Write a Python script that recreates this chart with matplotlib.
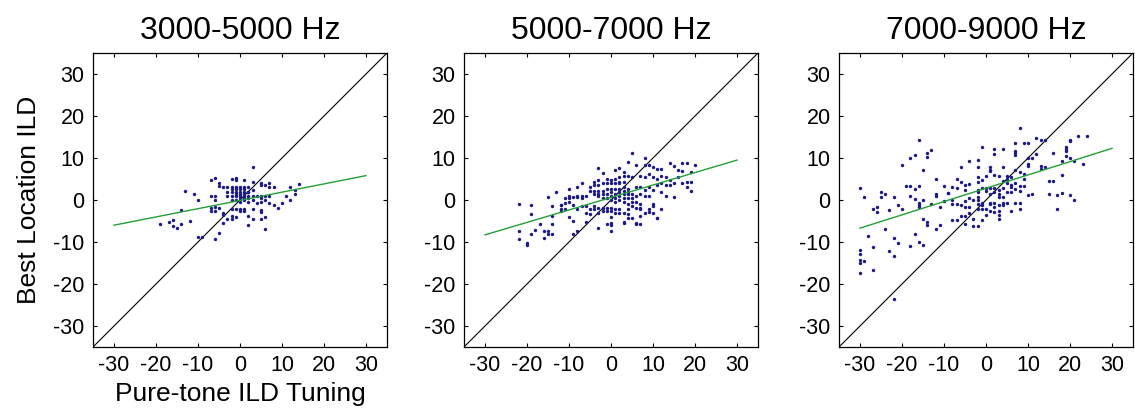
import numpy as np
import matplotlib
matplotlib.use("Agg")
import matplotlib.pyplot as plt

plt.rcParams['font.family'] = ['Liberation Sans', 'DejaVu Sans']
plt.rcParams['axes.unicode_minus'] = False

titles = ["3000-5000 Hz", "5000-7000 Hz", "7000-9000 Hz"]

# (pure-tone ILD, best location ILD)
pts_3000_5000 = [
    (3, 7.8), (-7, 4.8), (-6, 5.3), (-2, 5.0), (-1, 5.3), (-1, 4.8), (1, 4.8),
    (-5, 4.0), (-5, 3.4), (-4, 3.2), (-3, 3.0), (-2, 3.0), (-2, 2.5), (-1, 3.0),
    (-1, 2.5), (0, 3.0), (0, 2.5), (1, 3.0), (1, 2.5), (2, 3.0), (2, 2.0), (3, 4.3),
    (5, 4.0), (5, 3.5), (6, 3.5), (7, 4.0), (7, 3.0), (8, 3.0), (12, 3.0), (14, 3.9),
    (13, 2.3), (13, 1.5), (-13, 2.1), (-11, 1.4), (-10, 0.0),
    (-7, 0.9), (-6, 0.9), (-6, 0.0), (-3, 1.9), (-3, 0.9), (-2, 1.9), (-2, 0.9),
    (-2, 0.0), (-1, 1.9), (-1, 1.4), (-1, 0.9), (-1, 0.0), (0, 1.9), (0, 1.4),
    (0, 0.9), (0, 0.4), (0, -0.4), (1, 1.9), (1, 1.4), (1, 0.9), (1, 0.4), (1, 0.0),
    (2, 1.9), (2, 1.0), (2, 0.4), (2, -0.4), (3, 2.4), (3, 0.9), (3, 0.0), (4, 0.9),
    (5, 1.0), (5, 0.4), (5, -0.4), (6, 0.9), (6, 0.0), (7, 0.9), (7, -0.6), (8, -1.2),
    (9, -1.8), (10, -0.6), (11, 0.9), (12, 0.0), (4, -0.6),
    (-7, -1.8), (-6, -1.6), (-7, -2.7), (-6, -2.7), (-5, -2.0), (-4, -3.1), (-4, -3.5),
    (-2, -2.1), (-1, -2.1), (0, -2.1), (1, -2.1), (1, -2.7), (0, -2.7), (3, -2.1),
    (2, -3.7), (3, -4.5), (5, -2.5), (5, -2.8), (6, -4.1), (5, -4.6), (2, -6.0),
    (6, -6.8), (-2, -3.7), (-2, -4.5), (-1, -4.0), (-3, -4.6), (-4, -5.4),
    (-14, -2.5), (-12, -4.9), (-19, -5.7), (-17, -5.2), (-16, -4.8), (-16, -6.3),
    (-15, -6.6), (-14, -5.7), (-10, -8.7), (-9, -8.9), (-5, -7.9), (-6, -9.3),
]

pts_5000_7000 = [
    (5, 11.2), (4, 9.0), (8, 9.9), (6, 8.3), (8, 8.3), (9, 8.3), (10, 7.8), (11, 7.3),
    (12, 7.3), (14, 8.8), (17, 8.8), (18, 8.8), (20, 8.3), (15, 8.0), (16, 7.1),
    (17, 7.0), (19, 6.7), (-3, 7.5), (1, 7.1), (2, 7.5), (3, 6.7), (3, 5.8), (4, 5.8),
    (5, 5.4), (7, 5.8), (8, 5.4), (-2, 6.5), (-1, 5.1), (0, 4.8), (1, 5.1), (2, 5.4),
    (2, 4.4), (-3, 4.8), (-4, 4.3), (-4, 3.5), (-3, 3.5), (-2, 4.0), (-1, 4.0),
    (0, 4.0), (1, 4.0), (2, 4.0), (3, 4.4), (9, 6.3), (10, 5.4), (11, 5.0), (12, 5.6),
    (13, 5.4), (14, 4.8), (12, 4.0), (13, 3.5), (14, 3.5), (15, 4.0), (17, 4.0),
    (18, 4.3), (19, 4.3), (18, 3.0), (19, 2.2), (16, 5.4), (11, 3.5), (12, 1.8),
    (13, 0.9), (15, 0.6), (6, 3.0), (7, 3.0), (8, 2.4), (9, 3.0), (10, 2.4), (9, 0.9),
    (8, 0.9), (7, 1.4), (6, 0.9), (5, 1.4), (4, 1.8), (3, 2.2),
    (-5, 3.0), (-5, 2.2), (-4, 2.2), (-4, 1.4), (-3, 2.2), (-3, 1.4), (-3, 0.9),
    (-2, 2.2), (-2, 1.4), (-2, 0.4), (-1, 2.6), (-1, 1.4), (-1, 0.4), (0, 2.6),
    (0, 1.8), (0, 0.9), (0, 0.0), (1, 2.6), (1, 1.4), (1, 0.4), (1, -0.4), (2, 2.6),
    (2, 1.8), (2, 0.9), (2, 0.0), (3, 3.0), (3, 1.4), (3, 0.4), (3, -0.4), (4, 2.6),
    (4, 1.4), (4, 0.4), (4, -0.9), (5, 0.4), (5, -0.4), (5, -1.4), (6, -0.4),
    (6, -1.8), (7, -0.9), (7, -2.2),
    (-6, 0.9), (-7, 0.9), (-7, 0.4), (-8, 0.9), (-9, 0.6), (-10, 0.9), (-10, -0.4),
    (-11, 0.4), (-11, -0.6), (-12, -1.2), (-12, -2.6), (-9, -1.2), (-8, -2.2),
    (-7, -1.4), (-6, -1.4), (-6, -3.0), (-5, -2.2), (-5, -3.4), (-4, -1.4), (-4, -2.2),
    (-3, -1.8), (-3, -3.0), (-2, -1.8), (-2, -2.6), (-1, -1.8), (-1, -2.6), (0, -1.8),
    (0, -2.6), (0, -4.0), (0, -5.4), (0, -6.0), (0, -7.5), (1, -2.2), (1, -3.0),
    (2, -2.2), (2, -3.0), (3, -3.0), (3, -5.4), (4, -2.2), (4, -3.4), (4, -4.3),
    (5, -4.3), (6, -5.4), (7, -5.6), (8, -3.0), (9, -2.2), (10, -1.4), (10, -3.0),
    (11, -4.3), (12, -2.2),
    (-22, -1.0), (-19, -1.2), (-19, -3.3), (-15, 0.6), (-13, 2.0), (-12, -1.2),
    (-12, -2.1), (-14, -1.4), (-14, -3.7), (-11, -2.1), (-10, 2.5), (-10, 0.4),
    (-8, 3.0), (-8, 0.6), (-7, 4.0), (-17, -5.6), (-14, -5.7), (-22, -7.3),
    (-22, -9.4), (-20, -10.3), (-20, -10.7), (-19, -8.1), (-18, -7.1), (-16, -7.4),
    (-15, -7.4), (-15, -8.2), (-14, -8.2), (-16, -9.1), (-9, -8.1), (-8, -7.4),
    (-10, -4.1), (-9, -4.9), (-6, -5.3), (-3, -6.7), (-1, -5.7), (3, -5.3), (6, -5.7),
    (9, -2.9), (10, -1.0), (11, -4.4), (7, -3.7), (7, -2.0),
]

pts_7000_9000 = [
    (8, 17.1), (-16, 14.4), (12, 14.8), (13, 14.4), (14, 14.2), (22, 15.2), (24, 15.2),
    (20, 14.4), (20, 14.0), (19, 12.6), (19, 12.1), (19, 11.7), (7, 13.5), (9, 13.5),
    (10, 13.5), (-1, 12.6), (2, 12.1), (4, 12.1), (2, 11.0), (7, 11.7), (7, 11.3),
    (7, 10.8), (10, 10.0), (11, 10.0), (12, 11.0), (10, 8.6), (10, 8.2), (16, 11.2),
    (18, 9.2), (19, 10.4), (20, 10.0), (21, 9.2), (23, 8.6), (-14, 11.3), (-14, 10.3),
    (-13, 11.9), (-18, 10.0), (-17, 10.8), (-20, 8.4), (-15, 7.2),
    (-6, 7.9), (-4, 9.4), (-2, 9.5), (-2, 7.8), (1, 7.9), (1, 7.2), (4, 7.9), (5, 5.8),
    (6, 5.5), (7, 7.1), (8, 6.6), (9, 6.2), (13, 8.2), (13, 7.4), (14, 7.8), (15, 4.6),
    (16, 4.6), (18, 5.9), (-12, 5.0), (-7, 5.0), (-6, 4.4), (-5, 3.6), (-8, 3.0),
    (-10, 3.4), (-9, 1.6), (-7, 2.9), (-4, 3.8), (-5, 2.4),
    (-2, 5.4), (-2, 4.4), (-1, 4.8), (0, 5.8), (1, 6.8), (2, 6.0), (3, 5.8), (4, 4.6),
    (5, 5.0), (5, 4.0), (6, 3.6), (7, 4.0), (8, 3.4), (9, 3.4), (7, 2.6), (8, 2.2),
    (6, 3.0), (9, 5.0), (-1, 2.9), (0, 2.9), (1, 2.9), (2, 2.9), (3, 2.4), (4, 2.9),
    (-2, 2.4), (-2, 1.8), (0, 2.2), (1, 1.4), (2, 1.8), (3, 1.4), (4, 0.6), (3, 0.6),
    (5, 1.8), (6, 1.8), (10, 1.3), (11, 1.4), (15, 1.4), (17, 1.3), (18, 1.6),
    (20, 1.2), (21, 0.0),
    (-19, 3.4), (-18, 3.4), (-17, 2.6), (-16, 3.4), (-18, 1.0), (-17, 0.2), (-15, 0.0),
    (-16, -0.6), (-16, -1.1), (-16, -1.7), (-13, -1.0), (-12, 1.4), (-12, 0.9),
    (-11, -1.7), (-10, -0.2), (-9, 1.6), (-8, -1.0), (-8, 0.0), (-7, -1.0), (-6, -1.2),
    (-5, -0.2), (-4, 0.4), (-5, -1.6), (-4, -1.7), (-3, 0.0), (-2, 0.6), (-2, 0.0),
    (-2, -1.0), (-1, -0.6), (-1, -1.3), (1, -0.6), (1, -1.0), (2, -0.6), (2, -1.7),
    (3, -1.3), (3, -2.7), (4, -1.1), (4, -0.6), (5, -0.6), (6, -2.7), (7, -0.6),
    (8, -0.6), (8, -2.1), (17, -2.2),
    (-30, 2.9), (-29, 0.8), (-27, -2.1), (-26, -1.7), (-26, -2.8), (-25, 1.8),
    (-25, 0.8), (-24, 1.4), (-23, -2.5), (-22, 0.6), (-21, -1.2), (-20, -2.2),
    (-24, -6.9), (-28, -8.6), (-27, -11.1), (-30, -11.9), (-30, -12.8), (-30, -14.3),
    (-29, -14.5), (-30, -15.0), (-30, -17.3), (-27, -16.6), (-23, -12.2), (-22, -9.0),
    (-22, -13.3), (-21, -10.3), (-18, -10.9), (-17, -8.2), (-16, -9.9), (-15, -10.6),
    (-15, -4.5), (-14, -5.2), (-14, -6.0), (-12, -6.9), (-11, -5.9), (-8, -4.7),
    (-7, -4.8), (-6, -3.9), (-5, -3.9), (-5, -5.6), (-4, -3.0), (-3, -4.5), (-3, -6.3),
    (-2, -6.1), (-1, -4.7), (0, -3.5), (-2, -2.1), (-1, -2.1), (0, -2.1), (1, -2.7),
    (2, -2.9), (3, -3.5), (3, -4.5), (-22, -23.6),
]

# green fit line: value at x=-30 and x=30
fit_ends = [(-6.0, 5.8), (-8.3, 9.5), (-6.7, 12.3)]

all_pts = [pts_3000_5000, pts_5000_7000, pts_7000_9000]
ticks = [-30, -20, -10, 0, 10, 20, 30]

W, H = 1135, 415
fig = plt.figure(figsize=(W / 100, H / 100), dpi=100)
lefts = [93, 464, 839]
size = 294

for i in range(3):
    ax = fig.add_axes([lefts[i] / W, (H - 347) / H, size / W, size / H])
    p = np.array(all_pts[i])
    ax.plot([-35, 35], [-35, 35], color='black', lw=0.8, zorder=2)
    ax.scatter(p[:, 0], p[:, 1], s=6, color='#1c1a8a', linewidths=0, zorder=3)
    y0, y1 = fit_ends[i]
    ax.plot([-30, 30], [y0, y1], color='#22a035', lw=1.0, zorder=4)
    ax.set_xlim(-35, 35)
    ax.set_ylim(-35, 35)
    ax.set_xticks(ticks)
    ax.set_yticks(ticks)
    ax.tick_params(direction='in', length=3, width=0.8, top=True, right=True,
                   labelsize=15.5, pad=6)
    for s in ax.spines.values():
        s.set_linewidth(0.9)
    ax.set_title(titles[i], fontsize=23, pad=10)
    if i == 0:
        ax.set_xlabel("Pure-tone ILD Tuning", fontsize=19, labelpad=4)
        ax.set_ylabel("Best Location ILD", fontsize=19, labelpad=9)

fig.savefig("out.png", dpi=100)
